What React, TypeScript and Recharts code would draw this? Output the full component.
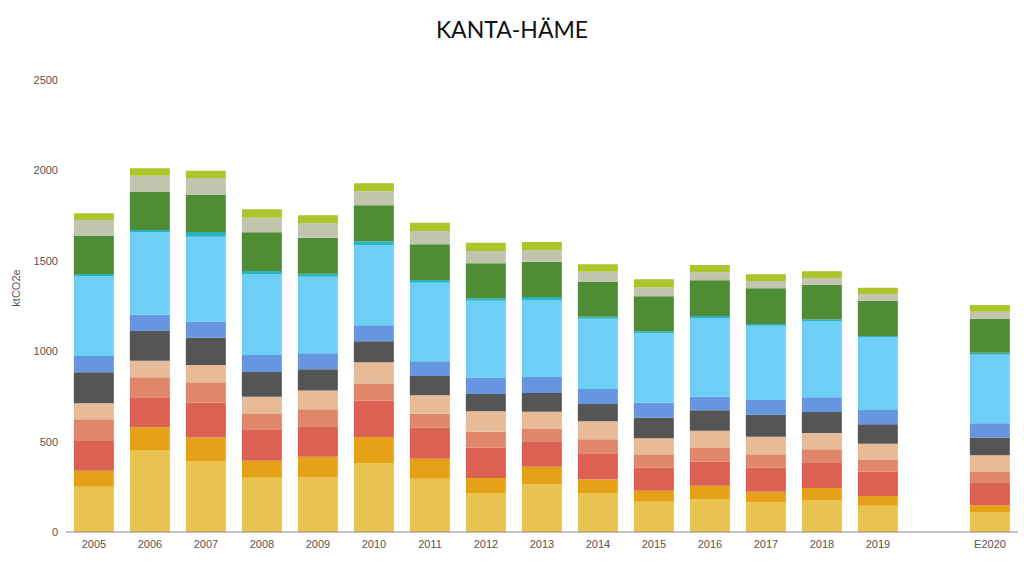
import { BarChart, Bar, XAxis, YAxis, Label } from "recharts";

const years = ["2005", "2006", "2007", "2008", "2009", "2010", "2011", "2012", "2013", "2014", "2015", "2016", "2017", "2018", "2019", "", "E2020"];

// sector values, ktCO2e (bottom of the stack first)
const s1 = [250, 453, 393, 300, 303, 382, 295, 216, 264, 216, 168, 183, 164, 177, 145, null, 111];
const s2 = [89, 126, 129, 94, 113, 143, 110, 83, 97, 75, 60, 73, 59, 66, 54, null, 37];
const s3 = [164, 166, 193, 174, 169, 201, 172, 169, 141, 144, 128, 133, 133, 143, 135, null, 123];
const s4 = [120, 111, 113, 85, 94, 96, 77, 87, 68, 78, 70, 76, 74, 71, 64, null, 61];
const s5 = [89, 91, 96, 95, 103, 117, 102, 113, 95, 99, 92, 95, 97, 91, 90, null, 92];
const s6 = [171, 165, 151, 137, 118, 116, 107, 95, 104, 96, 114, 113, 122, 116, 108, null, 98];
const s7 = [90, 90, 88, 94, 88, 88, 81, 90, 88, 83, 83, 75, 81, 81, 79, null, 79];
const s8 = [443, 456, 470, 448, 424, 443, 435, 426, 426, 389, 384, 436, 411, 422, 402, null, 380];
const s9 = [11, 12, 26, 17, 17, 22, 15, 14, 17, 11, 11, 11, 9, 9, 7, null, 11];
const s10 = [210, 211, 207, 214, 199, 199, 197, 193, 195, 193, 194, 197, 198, 192, 195, null, 188];
const s11 = [89, 90, 92, 80, 81, 77, 74, 68, 63, 56, 49, 44, 40, 37, 37, null, 38];
const s12 = [37, 41, 40, 47, 43, 45, 46, 46, 46, 41, 45, 41, 37, 37, 35, null, 38];

const series = [s1, s2, s3, s4, s5, s6, s7, s8, s9, s10, s11, s12];
const colors = ["#E9C34F", "#E5A118", "#DB6153", "#E0866A", "#E7BB97", "#555555", "#6596DF", "#6DCFF6", "#2BB3C0", "#4E8C36", "#C2C5AE", "#AAC62C"];
const yTicks = [0, 500, 1000, 1500, 2000, 2500];

const data = years.map((y, i) => {
  const row: any = { year: y };
  series.forEach((s, k) => {
    row["s" + (k + 1)] = s[i];
  });
  return row;
});

const tickFont = { fill: "#555", fontSize: 11, fontFamily: "Liberation Sans, Arial, sans-serif" };

export default function App() {
  return (
    <div style={{ position: "absolute", left: 0, top: 0, width: 1024, height: 580, background: "#fff" }}>
      <div
        style={{
          position: "absolute",
          top: 15,
          width: 1024,
          textAlign: "center",
          fontFamily: "Lato, sans-serif",
          fontSize: 23,
          color: "#111",
        }}
      >
        KANTA-HÄME
      </div>
      <BarChart
        width={1024}
        height={580}
        data={data}
        margin={{ top: 80, right: 6, bottom: 18, left: 0 }}
        barCategoryGap="14%"
      >
        <XAxis dataKey="year" height={30} tickLine={false} stroke="#888" tick={tickFont} />
        <YAxis
          width={66}
          domain={[0, 2500]}
          ticks={yTicks}
          axisLine={false}
          tickLine={false}
          tick={tickFont}
        >
          <Label
            value="ktCO2e"
            angle={-90}
            position="insideLeft"
            offset={16}
            dy={-18}
            style={{ ...tickFont, textAnchor: "middle" }}
          />
        </YAxis>
        {series.map((_, k) => (
          <Bar key={k} dataKey={"s" + (k + 1)} stackId="a" fill={colors[k]} isAnimationActive={false} />
        ))}
      </BarChart>
    </div>
  );
}
